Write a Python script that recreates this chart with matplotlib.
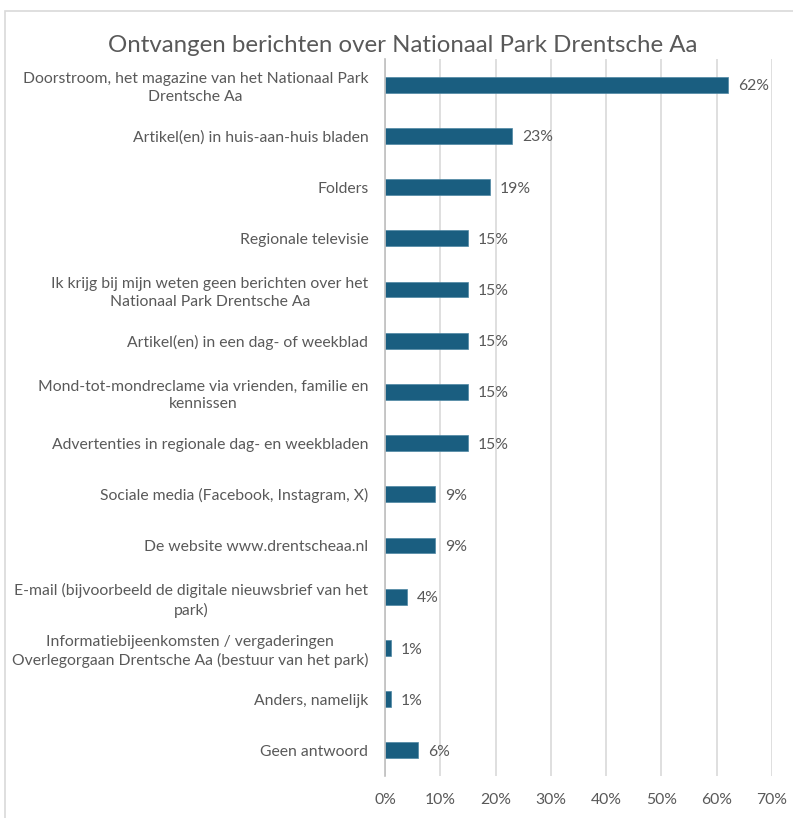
import matplotlib
matplotlib.use("Agg")
import matplotlib.pyplot as plt
from matplotlib.patches import Rectangle
from matplotlib.ticker import PercentFormatter

plt.rcParams['font.family'] = ['Lato', 'DejaVu Sans']

categories = [
    "Doorstroom, het magazine van het Nationaal Park\nDrentsche Aa",
    "Artikel(en) in huis-aan-huis bladen",
    "Folders",
    "Regionale televisie",
    "Ik krijg bij mijn weten geen berichten over het\nNationaal Park Drentsche Aa",
    "Artikel(en) in een dag- of weekblad",
    "Mond-tot-mondreclame via vrienden, familie en\nkennissen",
    "Advertenties in regionale dag- en weekbladen",
    "Sociale media (Facebook, Instagram, X)",
    "De website www.drentscheaa.nl",
    "E-mail (bijvoorbeeld de digitale nieuwsbrief van het\npark)",
    "Informatiebijeenkomsten / vergaderingen\nOverlegorgaan Drentsche Aa (bestuur van het park)",
    "Anders, namelijk",
    "Geen antwoord",
]
values = [62, 23, 19, 15, 15, 15, 15, 15, 9, 9, 4, 1, 1, 6]
xticks = [0, 10, 20, 30, 40, 50, 60, 70]
title = "Ontvangen berichten over Nationaal Park Drentsche Aa"

W, H = 793, 818
fig = plt.figure(figsize=(W / 100, H / 100), dpi=100)
fig.patch.set_facecolor('white')

# chart border
fig.patches.append(Rectangle((5 / W, -0.05), 1.0, (H - 11) / H + 0.05,
                             transform=fig.transFigure, fill=False,
                             edgecolor='#d9d9d9', linewidth=1.2))

ax = fig.add_axes([385 / W, 1 - 776 / H, (772 - 385) / W, (776 - 59) / H])
grey = '#595959'
bar_color = '#1a5e80'
fs = 11.3

y = list(range(len(categories)))
ax.barh(y, values, height=0.31, color=bar_color, edgecolor='#4d87a3',
        linewidth=0.5, zorder=3)
ax.set_ylim(len(categories) - 0.5, -0.5)
ax.set_xlim(0, 70)
ax.set_xticks(xticks)
ax.xaxis.set_major_formatter(PercentFormatter(decimals=0))
ax.set_yticks(y)
ax.set_yticklabels(categories, multialignment='center', linespacing=1.35)

for yi, v in zip(y, values):
    ax.text(v + 1.8, yi + 0.03, f"{v}%", va='center', ha='left', color=grey,
            fontsize=fs)

ax.grid(axis='x', color='#d9d9d9', linewidth=1.2, zorder=0)
for s in ['top', 'right', 'bottom']:
    ax.spines[s].set_visible(False)
ax.spines['left'].set_color('#bfbfbf')
ax.spines['left'].set_linewidth(1.2)
ax.spines['left'].set_zorder(4)
ax.tick_params(axis='both', length=0, colors=grey, labelsize=fs)
ax.tick_params(axis='y', pad=12)
ax.tick_params(axis='x', pad=12)

fig.text(403 / W, 1 - 46 / H, title, ha='center', va='center',
         fontsize=17.3, color=grey)

fig.savefig('out.png', dpi=100)
